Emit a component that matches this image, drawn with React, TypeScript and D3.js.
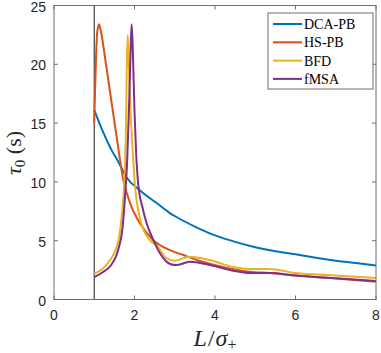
import * as d3 from "d3";

const seriesNames = ["DCA-PB", "HS-PB", "BFD", "fMSA"];
const seriesColors = ["#0072BD", "#D95319", "#EDB120", "#7E2F8E"];

// [L/sigma+, tau0 (s)]
const dcaPB: [number, number][] = [
  [1.0, 16.1], [1.2, 14.4], [1.43, 12.7], [1.6, 11.7], [1.8, 10.4], [2.13, 9.3],
  [2.55, 8.2], [2.88, 7.35], [3.0, 7.1], [3.5, 6.2], [4.0, 5.45], [4.5, 4.9],
  [5.0, 4.45], [5.5, 4.1], [6.0, 3.85], [6.5, 3.55], [7.0, 3.3], [7.5, 3.1], [8.0, 2.9],
];
const hsPB: [number, number][] = [
  [1.0, 15.0], [1.02, 17.8], [1.05, 21.2], [1.08, 22.9], [1.12, 23.4], [1.16, 22.9],
  [1.3, 19.8], [1.45, 16.3], [1.6, 12.8], [1.72, 10.2], [1.89, 8.2], [2.13, 6.5],
  [2.46, 5.06], [2.88, 4.2], [3.2, 3.8], [3.55, 3.36], [4.04, 2.9], [4.86, 2.36],
  [5.36, 2.25], [6.0, 2.05], [7.0, 1.78], [8.0, 1.5],
];
const bfd: [number, number][] = [
  [1.0, 2.2], [1.2, 2.6], [1.4, 3.4], [1.6, 5.0], [1.68, 7.0], [1.72, 8.5], [1.76, 11],
  [1.79, 15], [1.81, 20], [1.83, 22.5], [1.86, 20], [1.9, 16], [1.95, 13], [2.0, 10.2],
  [2.13, 7.0], [2.38, 5.06], [2.55, 4.6], [2.8, 3.5], [3.0, 3.3], [3.37, 3.64],
  [3.87, 3.36], [4.45, 2.76], [4.86, 2.6], [5.36, 2.6], [6.0, 2.25], [7.0, 2.05], [8.0, 1.83],
];
const fmsa: [number, number][] = [
  [1.0, 1.9], [1.2, 2.3], [1.4, 2.85], [1.6, 4.3], [1.7, 6.0], [1.76, 8.5], [1.82, 12],
  [1.87, 17], [1.91, 22], [1.93, 23.4], [1.96, 21], [2.0, 16], [2.04, 12.5], [2.09, 9.9],
  [2.2, 7.8], [2.3, 6.5], [2.45, 5.2], [2.63, 3.95], [2.8, 3.2], [2.9, 3.0], [3.04, 2.93],
  [3.37, 3.2], [3.87, 2.93], [4.45, 2.45], [4.86, 2.25], [5.36, 2.25], [6.0, 2.05],
  [7.0, 1.8], [8.0, 1.57],
];
const allSeries = [dcaPB, hsPB, bfd, fmsa];

const xTicks = [0, 2, 4, 6, 8];
const yTicks = [0, 5, 10, 15, 20, 25];
const wallX = 1;

export default function App() {
  const width = 381;
  const height = 353;
  const x = d3.scaleLinear().domain([0, 8]).range([54, 376]);
  const y = d3.scaleLinear().domain([0, 25]).range([299.5, 5.5]);
  const line = d3
    .line<[number, number]>()
    .x((d) => x(d[0]))
    .y((d) => y(d[1]))
    .curve(d3.curveMonotoneX);

  const axisColor = "#6e6e6e";
  const tickLen = 4;
  const [x0, x1] = x.range();
  const [y0, y1] = y.range();

  return (
    <svg
      width={width}
      height={height}
      style={{ position: "absolute", left: 0, top: 0, background: "#fff" }}
      fontFamily="'Liberation Sans', Arial, sans-serif"
    >
      {/* data */}
      <line x1={x(wallX)} x2={x(wallX)} y1={y0} y2={y1} stroke="#404040" strokeWidth={1.2} />
      {allSeries.map((s, i) => (
        <path key={i} d={line(s) || ""} fill="none" stroke={seriesColors[i]} strokeWidth={2} />
      ))}

      {/* box + ticks */}
      <rect x={x0} y={y1} width={x1 - x0} height={y0 - y1} fill="none" stroke={axisColor} strokeWidth={1} />
      {xTicks.map((t) => (
        <g key={"x" + t}>
          <line x1={x(t)} x2={x(t)} y1={y0} y2={y0 - tickLen} stroke={axisColor} />
          <line x1={x(t)} x2={x(t)} y1={y1} y2={y1 + tickLen} stroke={axisColor} />
          <text x={x(t)} y={320} fontSize={14} textAnchor="middle" fill="#262626">
            {t}
          </text>
        </g>
      ))}
      {yTicks.map((t) => (
        <g key={"y" + t}>
          <line x1={x0} x2={x0 + tickLen} y1={y(t)} y2={y(t)} stroke={axisColor} />
          <line x1={x1} x2={x1 - tickLen} y1={y(t)} y2={y(t)} stroke={axisColor} />
          <text x={46} y={y(t) + 6} fontSize={14} textAnchor="end" fill="#262626">
            {t}
          </text>
        </g>
      ))}

      {/* axis labels */}
      <text x={215} y={346} fontSize={24} textAnchor="middle" fontFamily="'Liberation Serif', serif" fill="#262626">
        <tspan fontStyle="italic">L</tspan>
        <tspan dx={1}>/</tspan>
        <tspan fontStyle="italic" dx={1}>σ</tspan>
        <tspan fontSize={16} dy={4}>+</tspan>
      </text>
      <text
        transform="translate(21,153) rotate(-90)"
        fontSize={22}
        textAnchor="middle"
        fontFamily="'Liberation Serif', serif"
        fill="#262626"
      >
        <tspan fontStyle="italic">τ</tspan>
        <tspan fontSize={15} dy={4}>0</tspan>
        <tspan dy={-4}> (s)</tspan>
      </text>

      {/* legend */}
      <rect x={268} y={13} width={105} height={76} fill="#fff" stroke={axisColor} strokeWidth={1} />
      {seriesNames.map((n, i) => (
        <g key={n}>
          <line x1={273} x2={302} y1={24 + i * 18.3} y2={24 + i * 18.3} stroke={seriesColors[i]} strokeWidth={2} />
          <text x={304} y={24 + i * 18.3 + 5} fontSize={14} fontFamily="'Liberation Serif', serif" fill="#000">
            {n}
          </text>
        </g>
      ))}
    </svg>
  );
}
